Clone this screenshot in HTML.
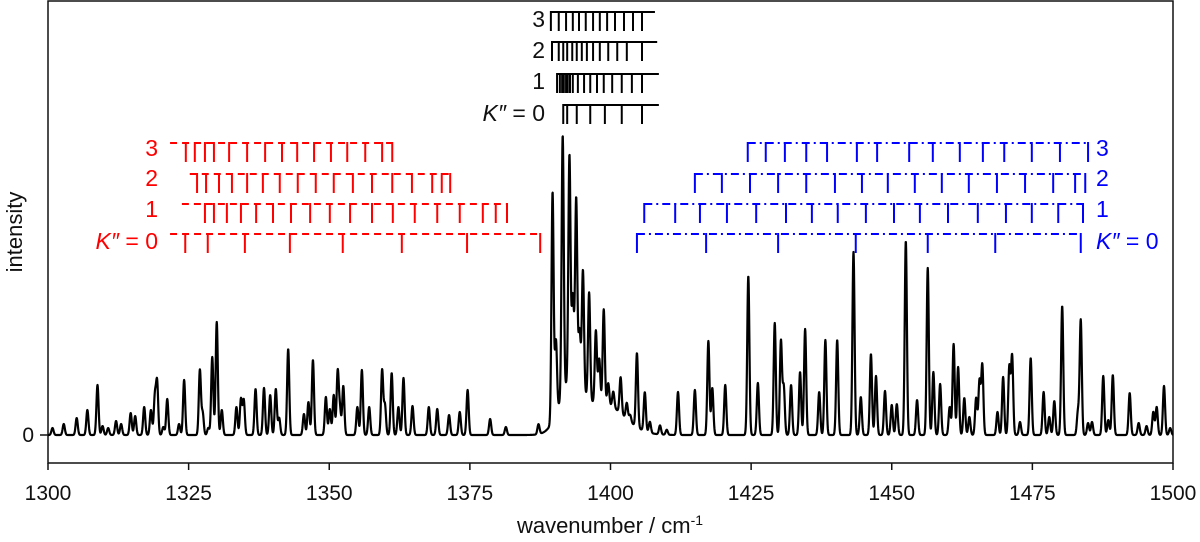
<!DOCTYPE html>
<html><head><meta charset="utf-8"><style>
html,body{margin:0;padding:0;background:#fff;}
svg{display:block;font-family:"Liberation Sans","DejaVu Sans",sans-serif;}
</style></head><body>
<svg id="chart" width="1200" height="542" viewBox="0 0 1200 542" xmlns="http://www.w3.org/2000/svg">
<rect x="48" y="1" width="1125" height="462" fill="none" stroke="#111" stroke-width="1.5"/>
<g id="xaxis"></g>
<g id="yaxis"></g>
<text x="610" y="533" font-size="22" text-anchor="middle" fill="#111">wavenumber / cm<tspan dy="-8" font-size="14">-1</tspan></text>
<text transform="translate(22,232) rotate(-90)" font-size="22" text-anchor="middle" fill="#111">intensity</text>
<g id="ladders"></g>
<path id="spec" fill="none" stroke="#000" stroke-width="2.2" stroke-linejoin="round"/>
</svg>
<script>
// x-axis data
const xTicks = [1300,1325,1350,1375,1400,1425,1450,1475,1500];
const yTicks = [0];
// sharp line positions (cm-1) and heights (a.u.)
const peakPos = [1300.8,1302.8,1305.1,1307.0,1308.8,1309.7,1310.7,1312.1,1313.0,1314.7,1315.5,1317.1,1318.3,1319.0,1319.4,1320.5,1321.2,1323.3,1324.2,1327.0,1327.5,1328.5,1329.2,1330.0,1330.9,1333.5,1334.3,1334.8,1336.9,1338.4,1339.5,1340.5,1341.1,1342.7,1345.5,1346.3,1347.1,1349.4,1350.1,1350.8,1351.5,1351.9,1352.5,1355.0,1355.8,1357.1,1359.4,1359.9,1361.1,1362.3,1363.2,1364.8,1367.7,1369.2,1371.3,1373.2,1374.6,1378.6,1381.4,1387.2,
1389.7,1390.3,1391.5,1392.7,1393.3,1393.9,1394.5,1395.1,1396.2,1397.4,1398.0,1398.8,1399.6,1400.5,1401.8,1402.9,1403.5,1404.7,1406.1,1407.0,1408.8,1410.0,
1412.0,1415.0,1417.4,1418.1,1420.4,1424.5,1426.2,1429.2,1430.3,1430.8,1432.1,1433.7,1434.6,1437.1,1438.2,1440.3,1443.2,1444.5,1446.3,1447.2,1448.8,1450.0,1450.9,1452.5,1454.5,1456.4,1457.4,1458.6,1460.3,1461.0,1461.8,1462.9,1463.8,1465.0,1465.6,1466.1,1468.8,1469.8,1470.9,1471.4,1472.8,1474.7,1477.0,1478.0,1478.9,1480.3,1483.1,1483.6,1484.9,1485.6,1487.6,1488.5,1489.3,1492.3,1493.9,1495.3,1496.5,1497.1,1498.4,1499.5];
const peakHeight = [7,11,17,25,50,9,7,14,11,22,19,28,25,38,52,8,36,11,55,65,22,7,78,113,25,28,36,35,46,47,40,46,17,86,21,33,75,38,26,40,63,25,49,28,65,28,65,30,62,28,57,29,28,26,20,23,45,16,8,10,
229,73,259,225,82,182,54,120,107,73,45,95,22,16,36,16,7,74,39,11,9,5,
43,45,94,47,50,159,52,112,94,48,50,63,106,43,95,95,183,38,81,59,44,30,31,194,35,167,63,51,28,91,68,37,18,37,54,70,23,58,68,79,13,77,43,18,34,129,23,115,12,13,59,15,60,42,12,9,23,28,49,7];
// broad band envelope
const envPos = [1393.0,1399.0];
const envHeight = [50,30];
const envSigma = [2.0,3.5];
const lineSigma = 0.19;

// ladder data (cm-1)
const redRow3 = [1324.5,1326.1,1327.9,1329.5,1332.2,1335.4,1338.6,1341.6,1344.3,1347.3,1350.3,1353.2,1356.4,1359.4,1361.2];
const redRow2 = [1326.5,1328.1,1330.4,1332.7,1335.4,1338.2,1341.2,1344.4,1347.6,1350.8,1354.2,1357.6,1361.2,1364.7,1368.3,1370.0,1371.5];
const redRow1 = [1327.9,1329.5,1331.8,1334.3,1337.0,1340.0,1343.2,1346.6,1350.1,1353.7,1357.6,1361.3,1365.2,1369.2,1373.2,1377.3,1379.6,1381.6];
const redRow0 = [1324.4,1328.4,1335.0,1343.0,1352.4,1362.9,1374.5,1387.5];
const redStart = [1321.7,1323.8,1325.2,1321.7];
const blueRow0 = [1404.7,1417.0,1429.8,1443.6,1456.4,1468.4,1483.6];
const blueRow1 = [1406.0,1411.5,1415.9,1420.7,1425.9,1431.2,1435.8,1440.4,1445.4,1450.4,1455.0,1460.0,1465.3,1470.3,1474.9,1479.6,1484.0];
const blueRow2 = [1415.0,1419.8,1424.8,1429.8,1434.8,1439.9,1444.7,1449.3,1454.1,1458.9,1463.7,1468.7,1473.7,1478.7,1482.6,1484.4];
const blueRow3 = [1424.4,1427.6,1431.0,1434.8,1438.5,1443.8,1447.4,1453.1,1457.3,1462.1,1466.2,1470.0,1474.9,1479.9,1484.9];
const blackRow3 = [1389.4,1390.8,1392.1,1393.3,1394.4,1395.6,1396.9,1398.1,1399.4,1400.8,1402.4,1404.0,1405.6];
const blackRow2 = [1389.6,1390.8,1391.6,1392.3,1393.2,1394.0,1394.9,1395.8,1396.9,1398.1,1399.6,1401.2,1402.9,1405.6];
const blackRow1 = [1390.5,1391.0,1391.4,1391.7,1392.1,1392.4,1392.8,1393.3,1394.2,1395.3,1396.4,1397.6,1398.8,1400.3,1402.0,1403.8,1405.6];
const blackRow0 = [1391.6,1392.3,1394.0,1396.4,1399.0,1402.0,1405.6];
const blackEnd = [1408.6,1408.6,1408.3,1407.9];

const NS="http://www.w3.org/2000/svg";
const X0=48,X1=1173,BASE=435;
const xs = v => X0 + (v-1300)/200*(X1-X0);
const ys = v => BASE - v;
function mk(tag, attrs, parent){const e=document.createElementNS(NS,tag);for(const k in attrs)e.setAttribute(k,attrs[k]);parent.appendChild(e);return e;}

// axes
const xa=document.getElementById('xaxis');
xTicks.forEach(t=>{
  const l=mk('line',{x1:xs(t),x2:xs(t),y1:463,y2:470,stroke:'#111','stroke-width':1.5},xa);
  
  
  const tx=mk('text',{x:xs(t),y:500,'font-size':21,'text-anchor':'middle',fill:'#111'},xa);
  tx.textContent=t;
  
  
});
const ya=document.getElementById('yaxis');
yTicks.forEach(t=>{
  const l=mk('line',{x1:40,x2:48,y1:ys(t),y2:ys(t),stroke:'#111','stroke-width':1.5},ya);
  
  
  const tx=mk('text',{x:34,y:ys(t)+7,'font-size':21,'text-anchor':'end',fill:'#111'},ya);
  tx.textContent=t;
  
  
});

// spectrum
let d='';
for(let w=1300; w<=1500.001; w+=0.04){
  let v=0;
  for(let i=0;i<peakPos.length;i++){const dx=w-peakPos[i]; if(Math.abs(dx)<1.5) v+=peakHeight[i]*Math.exp(-dx*dx/(2*lineSigma*lineSigma));}
  for(let i=0;i<envPos.length;i++){const dx=w-envPos[i]; v+=envHeight[i]*Math.exp(-dx*dx/(2*envSigma[i]*envSigma[i]));}
  d+=(d?'L':'M')+xs(w).toFixed(2)+','+ys(v).toFixed(2);
}
document.getElementById('spec').setAttribute('d',d);

// ladders
const lg=document.getElementById('ladders');
const rowY=[234,204,174,143];
const TL=19;
function ladder(ticks,y,color,dash,start,end,name){
  const g=mk('g',{},lg);
  
  
  const s=start!==null?start:ticks[0], e=end!==null?end:ticks[ticks.length-1];
  const hl=mk('line',{x1:xs(s),x2:xs(e),y1:y,y2:y,stroke:color,'stroke-width':2},g);
  if(dash) hl.setAttribute('stroke-dasharray',dash);
  ticks.forEach(t=>{mk('line',{x1:xs(t),x2:xs(t),y1:y-1,y2:y+TL,stroke:color,'stroke-width':2},g);});
}
const RED='#f00',BLUE='#00f';
[redRow0,redRow1,redRow2,redRow3].forEach((r,i)=>ladder(r,rowY[i],RED,'7,5',redStart[i],null,'red-ladder-k'+i));
[blueRow0,blueRow1,blueRow2,blueRow3].forEach((r,i)=>ladder(r,rowY[i],BLUE,'8,4,2,4',null,null,'blue-ladder-k'+i));
const bY=[105,74,42,12];
[blackRow0,blackRow1,blackRow2,blackRow3].forEach((r,i)=>ladder(r,bY[i],'#000',null,null,blackEnd[i],'black-ladder-k'+i));

function label(txt,x,y,color,anchor,name){
  const t=mk('text',{x:x,y:y,'font-size':23,'text-anchor':anchor,fill:color},lg);
  t.innerHTML=txt;
  
  
}
const K0='<tspan font-style="italic">K″</tspan> = 0';
label('3',158,156,RED,'end','red-label-k3');
label('2',158,186,RED,'end','red-label-k2');
label('1',158,217,RED,'end','red-label-k1');
label(K0,158,249,RED,'end','red-label-k0');
label('3',1096,156,BLUE,'start','blue-label-k3');
label('2',1096,186,BLUE,'start','blue-label-k2');
label('1',1096,217,BLUE,'start','blue-label-k1');
label(K0,1096,249,BLUE,'start','blue-label-k0');
label('3',545,27,'#111','end','black-label-k3');
label('2',545,58,'#111','end','black-label-k2');
label('1',545,89,'#111','end','black-label-k1');
label(K0,545,121,'#111','end','black-label-k0');
</script>
</body></html>
